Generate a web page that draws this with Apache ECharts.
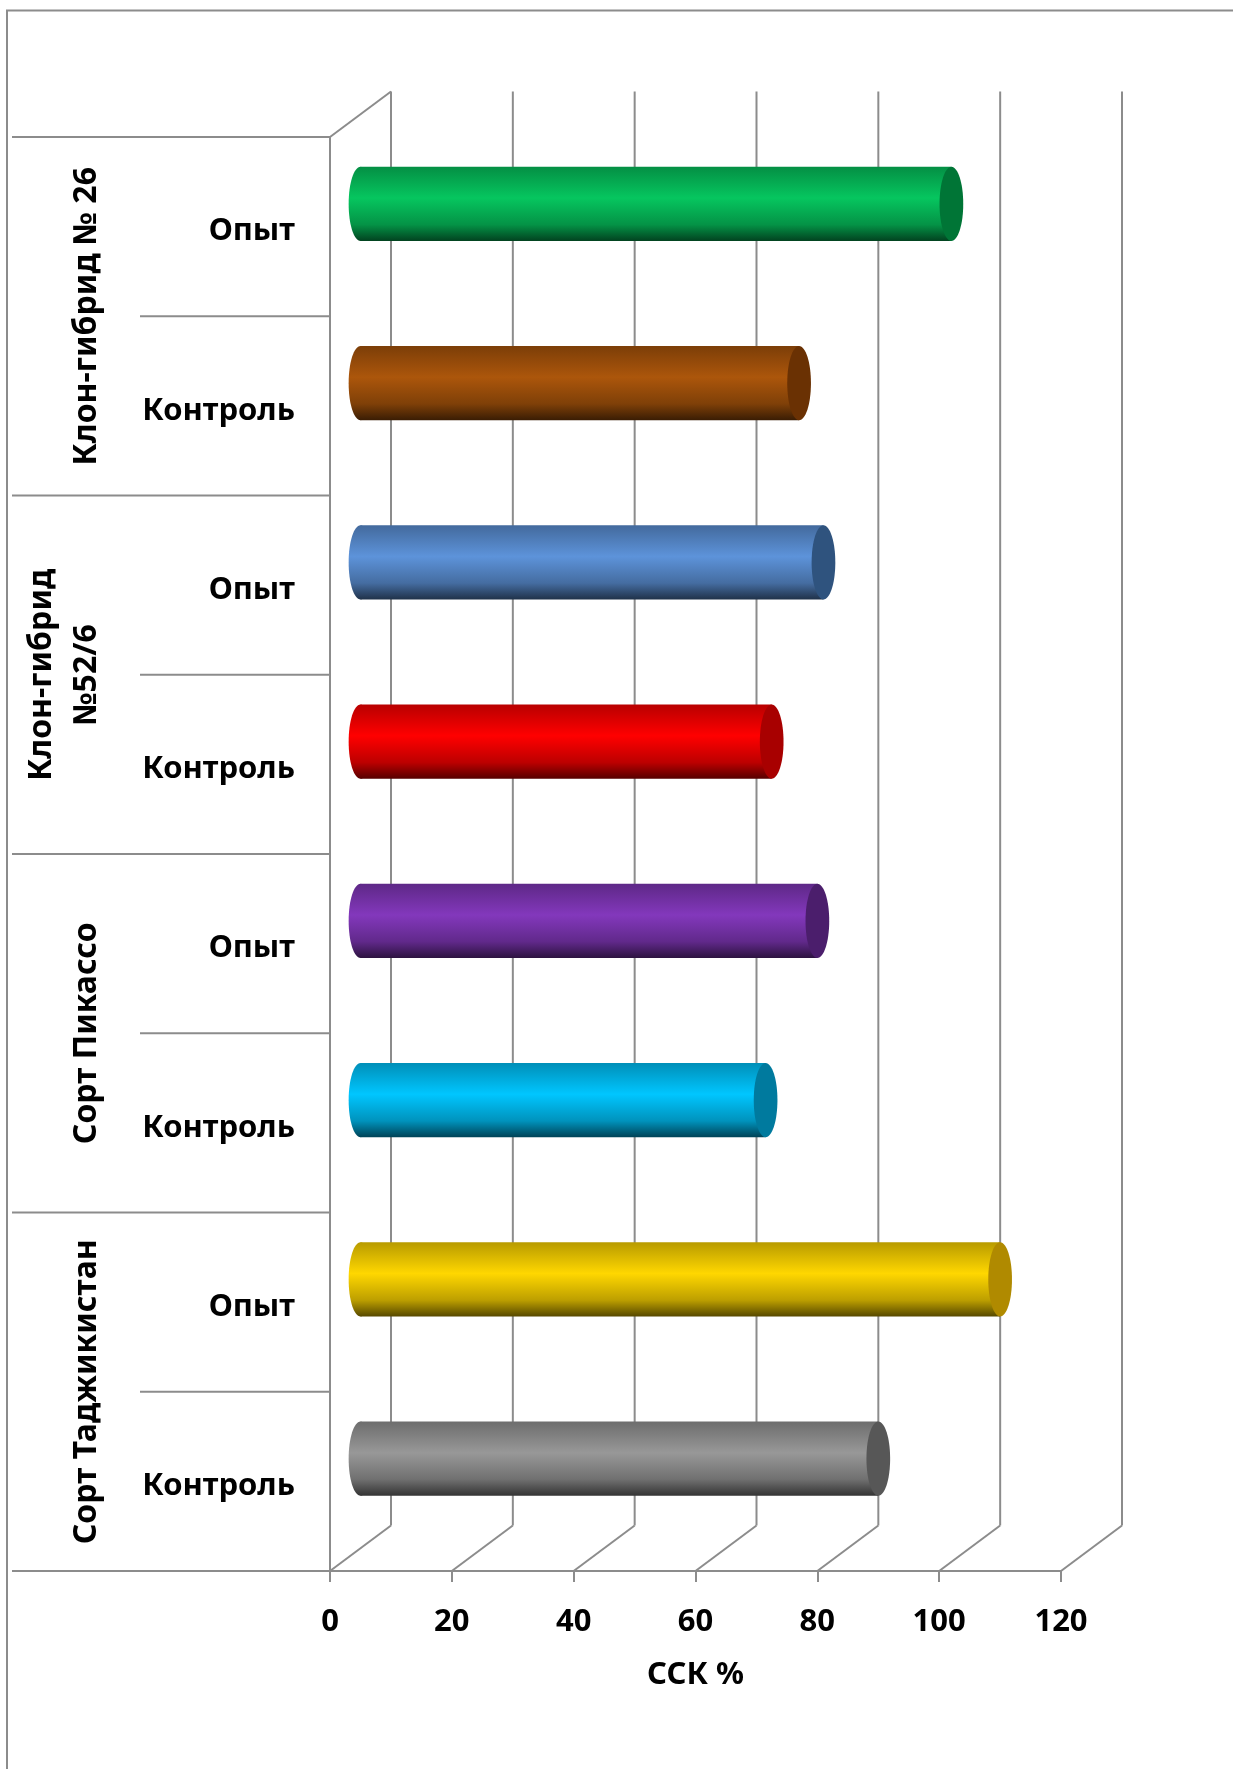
<!DOCTYPE html>
<html>
<head>
<meta charset="utf-8">
<script src="https://cdn.jsdelivr.net/npm/echarts@6/dist/echarts.min.js"></script>
<style>
  html, body { margin: 0; padding: 0; background: #ffffff; }
  #chart { width: 1233px; height: 1769px; }
</style>
</head>
<body>
<div id="chart"></div>
<script>
// ---- data ----
const categories = ['Опыт', 'Контроль', 'Опыт', 'Контроль', 'Опыт', 'Контроль', 'Опыт', 'Контроль'];
const groupNames = ['Клон-гибрид № 26', 'Клон-гибрид\n№52/6', 'Сорт Пикассо', 'Сорт Таджикистан'];
const groupStarts = [0, 2, 4, 6];
const values = [97, 72, 76, 67.5, 75, 66.5, 105, 85];
const xTicks = [0, 20, 40, 60, 80, 100, 120];
const axisTitle = 'ССК %';

// cylinder colours: body highlight and end face
const bodyColors = ['#06C65F', '#AC560B', '#5D93DA', '#FF0000', '#8338BC', '#00C6FF', '#FFD700', '#989898'];
const capColors  = ['#007536', '#6A3103', '#2F537E', '#A80000', '#4B1E6C', '#007A9E', '#B08A00', '#575757'];

// ---- styling ----
const DX = 61, DY = 45.5;           // depth offset of the back wall (px)
const LINE = '#8c8c8c';
const FONT = "'Noto Sans', 'DejaVu Sans', sans-serif";
const LONG_TICK = 318, SHORT_TICK = 190;

function shade(hex, f) {
  const n = parseInt(hex.slice(1), 16);
  const r = Math.min(255, Math.round(((n >> 16) & 255) * f));
  const g = Math.min(255, Math.round(((n >> 8) & 255) * f));
  const b = Math.min(255, Math.round((n & 255) * f));
  return 'rgb(' + r + ',' + g + ',' + b + ')';
}
function bodyGradient(c) {
  return new echarts.graphic.LinearGradient(0, 0, 0, 1, [
    { offset: 0, color: shade(c, 0.72) },
    { offset: 0.42, color: c },
    { offset: 0.78, color: shade(c, 0.74) },
    { offset: 1, color: shade(c, 0.34) }
  ]);
}

const chart = echarts.init(document.getElementById('chart'), null, { renderer: 'canvas' });

// back wall verticals, floor diagonals and the top-left edge
function renderWall(params, api) {
  const cs = params.coordSys;
  const x = api.coord([api.value(0), 0])[0];
  const top = cs.y, bottom = cs.y + cs.height;
  const ls = { stroke: LINE, lineWidth: 2 };
  const children = [
    { type: 'line', shape: { x1: x + DX, y1: top - DY, x2: x + DX, y2: bottom - DY }, style: ls },
    { type: 'line', shape: { x1: x, y1: bottom, x2: x + DX, y2: bottom - DY }, style: ls }
  ];
  if (params.dataIndex === 0) {
    children.push({ type: 'line', shape: { x1: x, y1: top, x2: x + DX, y2: top - DY }, style: ls });
  }
  return { type: 'group', children: children };
}

// category separators and category names on the left
function renderCategory(params, api) {
  const idx = api.value(1);
  const p = api.coord([0, idx]);
  const band = api.size([0, 1])[1];
  const ls = { stroke: LINE, lineWidth: 2 };
  const children = [];
  const yTop = p[1] - band / 2;
  const len = idx % 2 === 0 ? LONG_TICK : SHORT_TICK;
  children.push({ type: 'line', shape: { x1: p[0] - len, y1: yTop, x2: p[0], y2: yTop }, style: ls });
  if (idx === categories.length - 1) {
    const yBot = p[1] + band / 2;
    children.push({ type: 'line', shape: { x1: p[0] - LONG_TICK, y1: yBot, x2: p[0], y2: yBot }, style: ls });
  }
  children.push({
    type: 'text', x: p[0] - 35, y: p[1] + 5,
    style: { text: categories[idx], align: 'right', verticalAlign: 'middle',
             font: 'bold 31px ' + FONT, fill: '#000000' }
  });
  return { type: 'group', children: children };
}

// rotated group names
function renderGroups(params, api) {
  const start = api.value(1);
  const p = api.coord([0, start]);
  const band = api.size([0, 1])[1];
  const yc = p[1] + band / 2;
  return {
    type: 'text',
    x: p[0] - 221, y: yc,
    rotation: Math.PI / 2,
    style: {
      text: groupNames[api.value(2)],
      align: 'center', verticalAlign: 'bottom',
      font: 'bold 32px ' + FONT,
      fill: '#000000',
      lineHeight: 45
    }
  };
}

// cylinders
function renderBar(params, api) {
  const val = api.value(0), idx = api.value(1);
  const p0 = api.coord([0, idx]);
  const p1 = api.coord([val, idx]);
  const band = api.size([0, 1])[1];
  const h = band * 0.413;
  const rx = h * 0.16;
  const x0 = p0[0] + DX / 2, x1 = p1[0] + DX / 2, cy = p0[1] - DY / 2;
  const c = bodyColors[idx];
  return {
    type: 'group',
    children: [
      { type: 'ellipse', shape: { cx: x0, cy: cy, rx: rx, ry: h / 2 }, style: { fill: bodyGradient(c) } },
      { type: 'rect', shape: { x: x0, y: cy - h / 2, width: x1 - x0, height: h }, style: { fill: bodyGradient(c) } },
      { type: 'ellipse', shape: { cx: x1, cy: cy, rx: rx, ry: h / 2 }, style: { fill: capColors[idx] } }
    ]
  };
}

const option = {
  animation: false,
  backgroundColor: '#ffffff',
  graphic: [
    { type: 'polyline', silent: true, shape: { points: [[7, 1769], [7, 10.5], [1233, 10.5]] },
      style: { stroke: LINE, lineWidth: 2, fill: null } }
  ],
  grid: { left: 330, top: 137, width: 731, height: 1434, outerBoundsMode: 'none', containLabel: false },
  xAxis: {
    type: 'value', min: 0, max: 120, interval: 20,
    axisLine: { show: true, lineStyle: { color: LINE, width: 2 } },
    axisTick: { show: true, length: 11, lineStyle: { color: LINE, width: 2 } },
    axisLabel: { margin: 36, color: '#000', fontSize: 31, fontWeight: 'bold', fontFamily: FONT },
    splitLine: { show: false },
    name: axisTitle, nameLocation: 'middle', nameGap: 89,
    nameTextStyle: { color: '#000', fontSize: 31, fontWeight: 'bold', fontFamily: FONT }
  },
  yAxis: {
    type: 'category', data: categories, inverse: true,
    axisLine: { show: true, lineStyle: { color: LINE, width: 2 } },
    axisTick: { show: false },
    axisLabel: { show: false },
    splitLine: { show: false }
  },
  series: [
    { type: 'custom', silent: true, clip: false, z: 1, renderItem: renderWall,
      encode: { x: 0, y: 1 }, data: xTicks.map(t => [t, 0]) },
    { type: 'custom', silent: true, clip: false, z: 1, renderItem: renderCategory,
      encode: { x: 0, y: 1 }, data: categories.map((c, i) => [0, i]) },
    { type: 'custom', silent: true, clip: false, z: 2, renderItem: renderGroups,
      encode: { x: 0, y: 1 }, data: groupStarts.map((s, i) => [0, s, i]) },
    { type: 'custom', silent: true, clip: false, z: 3, renderItem: renderBar,
      encode: { x: 0, y: 1 }, data: values.map((v, i) => [v, i]) }
  ]
};
chart.setOption(option);
</script>
</body>
</html>
